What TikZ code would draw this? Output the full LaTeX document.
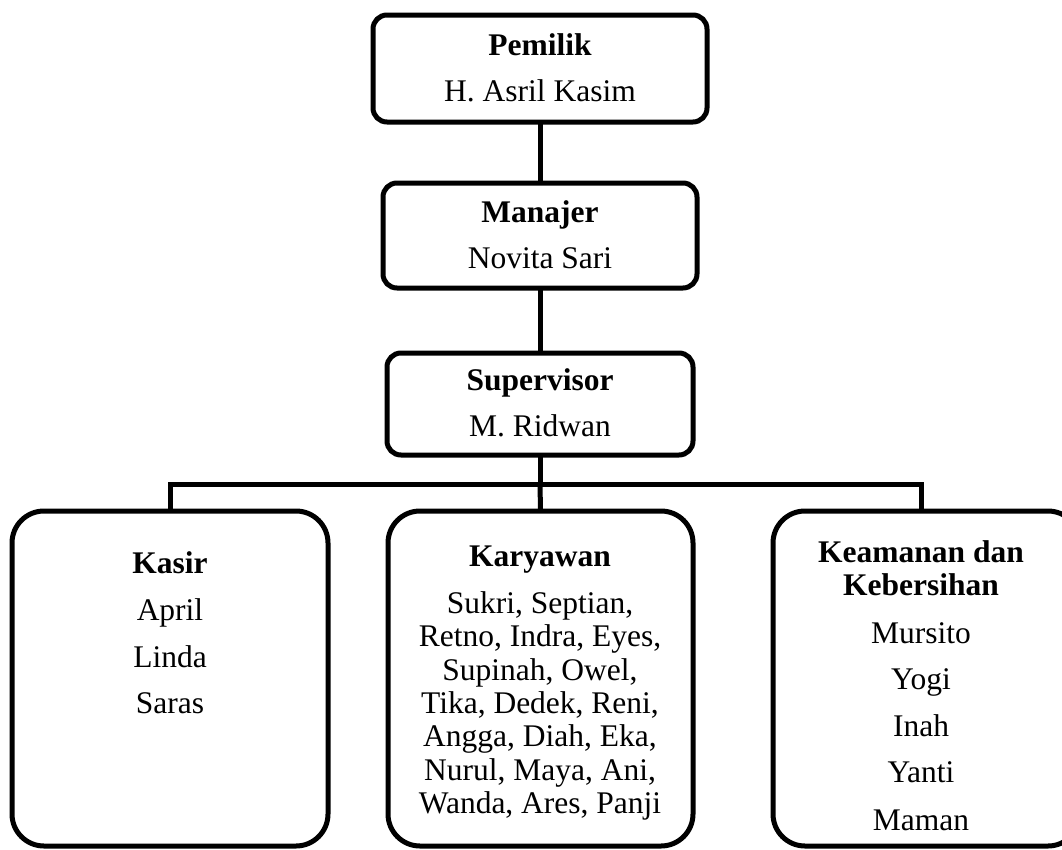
\documentclass[tikz,border=0pt]{standalone}
\usepackage{fontspec}
\setmainfont{Liberation Serif}
\begin{document}
\begin{tikzpicture}[x=1pt,y=-1pt,
  box/.style={draw,line width=5pt,inner sep=0pt,outer sep=0pt},
  topbox/.style={box,rounded corners=14pt},
  botbox/.style={box,rounded corners=32pt},
  txt/.style={anchor=base,inner sep=0pt,font=\fontsize{31.5}{33}\selectfont},
  ttl/.style={txt,font=\fontsize{31.5}{33}\selectfont\bfseries},
  link/.style={line width=5pt}]
\useasboundingbox (0,0) rectangle (1062,849);
% boxes
\node[topbox,minimum width=334pt,minimum height=107pt] (pemilik) at (540,68.5) {};
\node[topbox,minimum width=314pt,minimum height=105pt] (manajer) at (540,235.5) {};
\node[topbox,minimum width=306pt,minimum height=102pt] (supervisor) at (540,404) {};
\node[botbox,minimum width=316pt,minimum height=335pt] (kasir) at (170,678.5) {};
\node[botbox,minimum width=305pt,minimum height=335pt] (karyawan) at (540.5,678.5) {};
\node[botbox,minimum width=307pt,minimum height=335pt] (keamanan) at (926.5,678.5) {};
% connectors
\coordinate (bus) at (540,484);
\coordinate (drop3) at (921,511);
\draw[link] (pemilik.south) -- (manajer.north);
\draw[link] (manajer.south) -- (supervisor.north);
\draw[link] (supervisor.south) -- (bus);
\draw[link] (kasir.north) |- (bus) -| (drop3);
\draw[link] (bus) -- (karyawan.north);
% texts
\node[ttl] (t1) at (540,55) {Pemilik};
\node[txt] (t2) at (540,101.7) {H. Asril Kasim};
\node[ttl] (t3) at (540,222.7) {Manajer};
\node[txt] (t4) at (540,268) {Novita Sari};
\node[ttl] (t5) at (540,390) {Supervisor};
\node[txt] (t6) at (540,436.7) {M. Ridwan};
% kasir
\node[ttl] (k0) at (170,573) {Kasir};
\node[txt] (k1) at (170,620) {April};
\node[txt] (k2) at (170,667) {Linda};
\node[txt] (k3) at (170,713) {Saras};
% karyawan
\node[ttl] (y0) at (540,566.7) {Karyawan};
\node[txt] (y1) at (540,613.3) {Sukri, Septian,};
\node[txt] (y2) at (540,646.7) {Retno, Indra, Eyes,};
\node[txt] (y3) at (540,680) {Supinah, Owel,};
\node[txt] (y4) at (540,713.3) {Tika, Dedek, Reni,};
\node[txt] (y5) at (540,746.7) {Angga, Diah, Eka,};
\node[txt] (y6) at (540,780) {Nurul, Maya, Ani,};
\node[txt] (y7) at (540,813.3) {Wanda, Ares, Panji};
% keamanan
\node[ttl] (m0) at (921,562) {Keamanan dan};
\node[ttl] (m1) at (921,595.5) {Kebersihan};
\node[txt] (m2) at (921,643) {Mursito};
\node[txt] (m3) at (921,689) {Yogi};
\node[txt] (m4) at (921,736) {Inah};
\node[txt] (m5) at (921,782) {Yanti};
\node[txt] (m6) at (921,830) {Maman};
\end{tikzpicture}
\end{document}
